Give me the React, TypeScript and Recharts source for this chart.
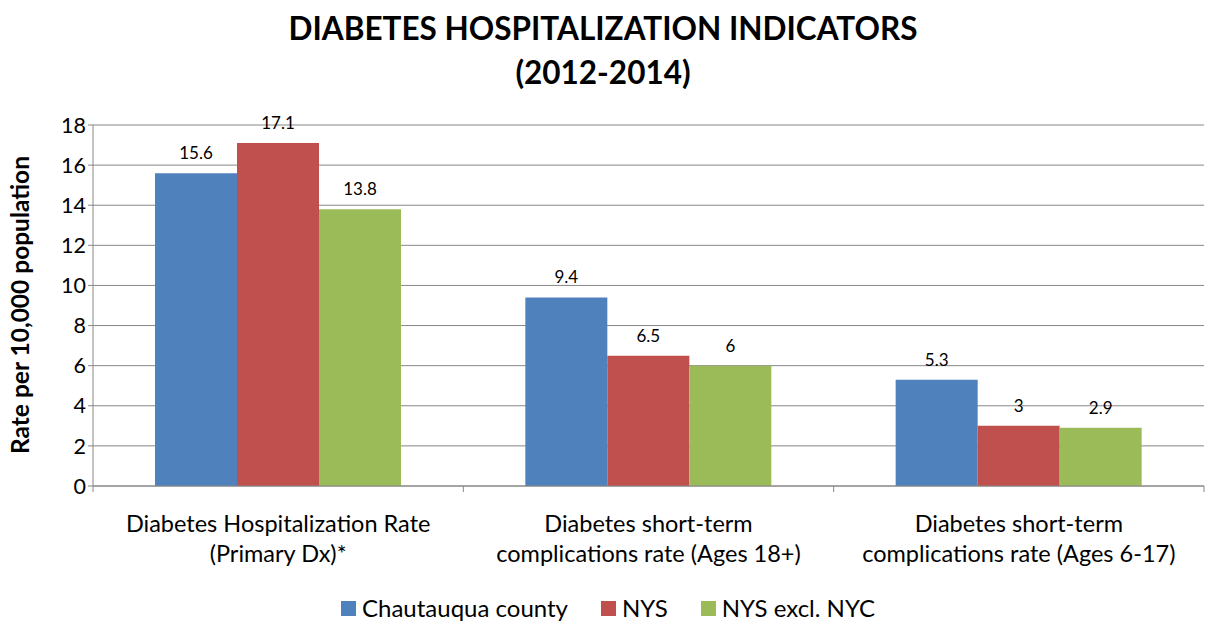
import { BarChart, Bar, XAxis, YAxis, CartesianGrid, LabelList } from 'recharts';

const categories = [
  ['Diabetes Hospitalization Rate', '(Primary Dx)*'],
  ['Diabetes short-term', 'complications rate (Ages 18+)'],
  ['Diabetes short-term', 'complications rate (Ages 6-17)'],
];
const chautauqua = [15.6, 9.4, 5.3];
const nys = [17.1, 6.5, 3];
const nysExclNyc = [13.8, 6, 2.9];
const yTicks = [0, 2, 4, 6, 8, 10, 12, 14, 16, 18];

const series = [
  { key: 'chautauqua', name: 'Chautauqua county', color: '#4F81BD' },
  { key: 'nys', name: 'NYS', color: '#C0504D' },
  { key: 'nysExclNyc', name: 'NYS excl. NYC', color: '#9BBB59' },
];

const data = categories.map((c, i) => ({
  cat: c.join('\n'),
  chautauqua: chautauqua[i],
  nys: nys[i],
  nysExclNyc: nysExclNyc[i],
}));

const W = 1206;
const H = 624;
const margin = { top: 125, right: 2, left: 0, bottom: 0 };
const yAxisW = 93;
const halfBand = (W - margin.right - yAxisW) / categories.length / 2;
const font = 'Lato, Calibri, sans-serif';

function CatTick(props: any) {
  const { x, y, payload, index } = props;
  const lines = String(payload.value).split('\n');
  return (
    <g>
      <line x1={x - halfBand} x2={x - halfBand} y1={y - 8} y2={y - 2} stroke="#868686" />
      {index === categories.length - 1 && (
        <line x1={x + halfBand} x2={x + halfBand} y1={y - 8} y2={y - 2} stroke="#868686" />
      )}
      {lines.map((l, i) => (
        <text key={i} x={x} y={y + 38 + i * 30} textAnchor="middle" fontSize={23.5} fill="#000" fontFamily={font}>
          {l}
        </text>
      ))}
    </g>
  );
}

export default function App() {
  return (
    <div style={{ position: 'fixed', left: 0, top: 0, width: W, height: H, background: '#fff' }}>
      <div
        style={{
          position: 'absolute',
          top: 6,
          left: 0,
          width: W,
          textAlign: 'center',
          fontFamily: font,
          fontWeight: 'bold',
          fontSize: 31.5,
          lineHeight: '44px',
          color: '#000',
        }}
      >
        DIABETES HOSPITALIZATION INDICATORS
        <br />
        (2012-2014)
      </div>
      <div
        style={{
          position: 'absolute',
          left: 20 - 200,
          top: 305 - 15,
          width: 400,
          height: 30,
          textAlign: 'center',
          transform: 'rotate(-90deg)',
          fontFamily: font,
          fontWeight: 'bold',
          fontSize: 24.5,
          lineHeight: '30px',
          color: '#000',
        }}
      >
        Rate per 10,000 population
      </div>
      <div
        style={{
          position: 'absolute',
          top: 592,
          left: 341,
          display: 'flex',
          fontFamily: font,
          fontSize: 24,
          lineHeight: '32px',
          color: '#000',
        }}
      >
        {series.map((s, i) => (
          <div key={s.key} style={{ display: 'flex', alignItems: 'center', marginLeft: i === 0 ? 0 : 33 }}>
            <span style={{ width: 15, height: 15, background: s.color, display: 'inline-block', marginRight: 6 }} />
            <span>{s.name}</span>
          </div>
        ))}
      </div>
      <BarChart width={W} height={H} data={data} margin={margin} barCategoryGap={62} barGap={0}>
        <CartesianGrid vertical={false} stroke="#868686" />
        <XAxis
          dataKey="cat"
          height={138}
          tick={<CatTick />}
          tickLine={false}
          axisLine={{ stroke: '#868686' }}
          interval={0}
        />
        <YAxis
          width={yAxisW}
          domain={[0, 18]}
          ticks={yTicks}
          tick={{ fontSize: 21.5, fill: '#000', fontFamily: font }}
          tickLine={{ stroke: '#868686' }}
          tickSize={5}
          axisLine={{ stroke: '#868686' }}
        />
        {series.map((s) => (
          <Bar key={s.key} dataKey={s.key} name={s.name} fill={s.color} isAnimationActive={false}>
            <LabelList dataKey={s.key} position="top" offset={14} fontSize={17} fill="#000" fontFamily={font} />
          </Bar>
        ))}
      </BarChart>
    </div>
  );
}
